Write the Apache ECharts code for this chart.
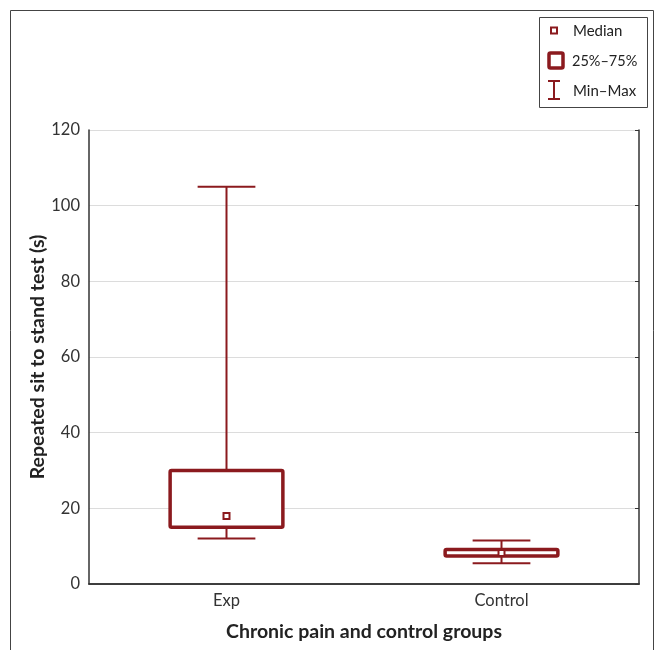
<!DOCTYPE html>
<html>
<head>
<meta charset="utf-8">
<script src="https://cdn.jsdelivr.net/npm/echarts@6/dist/echarts.min.js"></script>
<style>html,body{margin:0;padding:0;background:#fff;}#chart{width:660px;height:650px;}</style>
</head>
<body>
<div id="chart"></div>
<script>
var categories = ['Exp', 'Control'];
var minVals = [12, 5.5];
var q1Vals = [15, 7.4];
var medianVals = [18, 8.2];
var q3Vals = [30, 9.1];
var maxVals = [105, 11.5];
var yTicks = [0, 20, 40, 60, 80, 100, 120];

var RED = '#8B1A1E';
var FONT = 'Lato';

var boxData = categories.map(function (c, i) {
  return [i, minVals[i], q1Vals[i], medianVals[i], q3Vals[i], maxVals[i]];
});

function renderBox(params, api) {
  var i = api.value(0);
  var pMin = api.coord([i, api.value(1)]);
  var pQ1 = api.coord([i, api.value(2)]);
  var pMed = api.coord([i, api.value(3)]);
  var pQ3 = api.coord([i, api.value(4)]);
  var pMax = api.coord([i, api.value(5)]);
  var band = api.size([1, 0])[0];
  var bw = band * 0.41;
  var cw = band * 0.21;
  var x = pMed[0];
  var wStyle = { stroke: RED, lineWidth: 2, fill: null };
  return {
    type: 'group',
    children: [
      { type: 'line', shape: { x1: x, y1: pMax[1], x2: x, y2: pQ3[1] }, style: wStyle },
      { type: 'line', shape: { x1: x, y1: pQ1[1], x2: x, y2: pMin[1] }, style: wStyle },
      { type: 'line', shape: { x1: x - cw / 2, y1: pMax[1], x2: x + cw / 2, y2: pMax[1] }, style: wStyle },
      { type: 'line', shape: { x1: x - cw / 2, y1: pMin[1], x2: x + cw / 2, y2: pMin[1] }, style: wStyle },
      { type: 'rect', shape: { x: x - bw / 2, y: pQ3[1], width: bw, height: pQ1[1] - pQ3[1], r: 1.5 },
        style: { stroke: RED, lineWidth: 3.5, fill: '#fff' } },
      { type: 'rect', shape: { x: x - 3, y: pMed[1] - 3, width: 6, height: 6 },
        style: { stroke: RED, lineWidth: 2, fill: '#fff' } }
    ]
  };
}

var chart = echarts.init(document.getElementById('chart'), null, { renderer: 'canvas' });
var axisLineStyle = { color: '#333', width: 1.5 };
chart.setOption({
  animation: false,
  backgroundColor: '#fff',
  textStyle: { fontFamily: FONT },
  grid: { left: 89, right: 21, top: 130, bottom: 66 },
  xAxis: [{
    type: 'category',
    data: categories,
    boundaryGap: true,
    axisLine: { lineStyle: axisLineStyle },
    axisTick: { inside: true, alignWithLabel: true, length: 5, lineStyle: { color: '#333' } },
    axisLabel: { fontFamily: FONT, fontSize: 16.5, color: '#333', margin: 8 },
    name: 'Chronic pain and control groups',
    nameLocation: 'middle',
    nameGap: 38,
    nameMoveOverlap: false,
    nameTextStyle: { fontFamily: FONT, fontSize: 19.5, fontWeight: 'bold', color: '#222' }
  }, {
    type: 'category',
    data: categories,
    position: 'top',
    boundaryGap: true,
    axisLine: { lineStyle: axisLineStyle },
    axisTick: { inside: true, alignWithLabel: true, length: 5, lineStyle: { color: '#333' } },
    axisLabel: { show: false }
  }],
  yAxis: [{
    type: 'value',
    min: 0, max: 120, interval: 20,
    axisLine: { show: true, lineStyle: axisLineStyle },
    axisTick: { show: false },
    axisLabel: { fontFamily: FONT, fontSize: 16.5, color: '#333', margin: 9,
      formatter: function (v) { return yTicks.indexOf(v) >= 0 ? String(v) : ''; } },
    splitLine: { show: true, lineStyle: { color: '#dcdcdc', width: 1 } },
    name: 'Repeated sit to stand test (s)',
    nameLocation: 'middle',
    nameGap: 41,
    nameMoveOverlap: false,
    nameRotate: 90,
    nameTextStyle: { fontFamily: FONT, fontSize: 19.5, fontWeight: 'bold', color: '#222' }
  }, {
    type: 'value',
    position: 'right',
    min: 0, max: 120, interval: 20,
    axisLine: { show: true, lineStyle: axisLineStyle },
    axisTick: { show: true, inside: true, length: 4, lineStyle: { color: '#333' } },
    axisLabel: { show: false },
    splitLine: { show: false }
  }],
  graphic: [
    { type: 'rect', shape: { x: 10.5, y: 10.5, width: 643, height: 700 },
      style: { stroke: '#444', lineWidth: 1, fill: null }, silent: true, z: -1 },
    { type: 'rect', shape: { x: 539.5, y: 17.5, width: 108, height: 90 },
      style: { stroke: '#444', lineWidth: 1, fill: '#fff' }, z: 10 },
    { type: 'rect', shape: { x: 551, y: 27.5, width: 6, height: 6 },
      style: { stroke: RED, lineWidth: 2, fill: '#fff' }, z: 11 },
    { type: 'text', x: 573, y: 31, style: { text: 'Median', font: '15px Lato', fill: '#222', textVerticalAlign: 'middle' }, z: 11 },
    { type: 'rect', shape: { x: 549, y: 53, width: 14, height: 15, r: 1.5 },
      style: { stroke: RED, lineWidth: 3.5, fill: '#fff' }, z: 11 },
    { type: 'text', x: 572, y: 61, style: { text: '25%–75%', font: '14.5px Lato', fill: '#222', textVerticalAlign: 'middle' }, z: 11 },
    { type: 'line', shape: { x1: 554, y1: 81, x2: 554, y2: 99 }, style: { stroke: RED, lineWidth: 2 }, z: 11 },
    { type: 'line', shape: { x1: 548, y1: 81, x2: 560, y2: 81 }, style: { stroke: RED, lineWidth: 2 }, z: 11 },
    { type: 'line', shape: { x1: 548, y1: 99, x2: 560, y2: 99 }, style: { stroke: RED, lineWidth: 2 }, z: 11 },
    { type: 'text', x: 573, y: 91, style: { text: 'Min–Max', font: '15px Lato', fill: '#222', textVerticalAlign: 'middle' }, z: 11 }
  ],
  series: [{
    type: 'custom',
    name: 'Boxes',
    renderItem: renderBox,
    encode: { x: 0, y: [1, 2, 3, 4, 5] },
    data: boxData,
    z: 5
  }]
});
</script>
</body>
</html>
